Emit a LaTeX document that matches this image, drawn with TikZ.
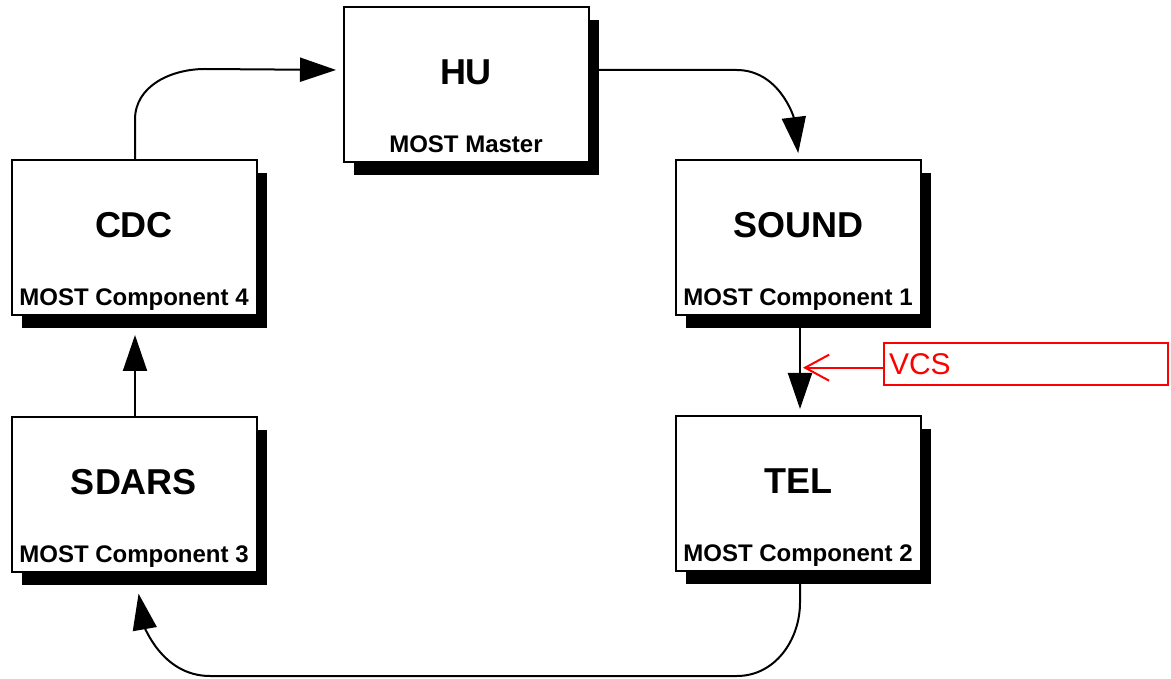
\documentclass[tikz,border=0pt]{standalone}
\usepackage{fontspec}
\setmainfont{Liberation Sans}
\usetikzlibrary{arrows.meta,shadows}
\begin{document}
\begin{tikzpicture}[x=1pt,y=1pt,
  unit/.style={draw=black, fill=white, line width=2pt, minimum width=245pt, minimum height=155pt, inner sep=0pt,
    general shadow={fill=black, shadow xshift=10pt, shadow yshift=-13pt}},
  ttl/.style={anchor=base, font=\fontsize{36}{40}\selectfont\bfseries, inner sep=0pt},
  sub/.style={anchor=base, font=\fontsize{24}{28}\selectfont\bfseries, inner sep=0pt},
  link/.style={line width=2pt, -{Triangle[length=36pt,width=24pt]}},
  vcsbox/.style={draw=red, line width=1.8pt, text=red, minimum width=284pt, minimum height=42pt,
    text width=274pt, inner xsep=5pt, inner ysep=0pt, align=left, font=\fontsize{30}{30}\selectfont},
  vcsarrow/.style={draw=red, line width=2pt, -{Straight Barb[length=24pt,width=26pt]}}
]
\useasboundingbox (0,0) rectangle (1171,678);

% boxes
\node[unit] (HU) at (466,593.5) {};
\node[ttl] (HUt) at (HU.center) {HU};
\node[sub] (HUs) at ([yshift=10.5pt]HU.south) {MOST Master};

\node[unit] (CDC) at (134,440) {};
\node[ttl] (CDCt) at (CDC.center) {CDC};
\node[sub] (CDCs) at ([yshift=10.5pt]CDC.south) {MOST Component 4};

\node[unit] (SOUND) at (798,440) {};
\node[ttl] (SOUNDt) at (SOUND.center) {SOUND};
\node[sub] (SOUNDs) at ([yshift=10.5pt]SOUND.south) {MOST Component 1};

\node[unit] (SDARS) at (134,183) {};
\node[ttl] (SDARSt) at (SDARS.center) {SDARS};
\node[sub] (SDARSs) at ([yshift=10.5pt]SDARS.south) {MOST Component 3};

\node[unit] (TEL) at (798,184) {};
\node[ttl] (TELt) at (TEL.center) {TEL};
\node[sub] (TELs) at ([yshift=10.5pt]TEL.south) {MOST Component 2};

% ring connectors
\draw[link, shorten >=6.5pt] ([xshift=1pt]CDC.north) -- ++(0,40) to[out=90,in=180] ++(70,50.5) -- ([yshift=14.5pt]HU.west);
\draw[link, shorten >=6.5pt] ([yshift=14.5pt]HU.east) -- ++(147,0) to[out=0,in=97] ([xshift=1pt]SOUND.north);
\draw[link, shorten >=6.5pt] ([xshift=2pt]SOUND.south) -- ([xshift=2pt]TEL.north);
\draw[link, shorten >=20.5pt] ([xshift=2pt]TEL.south) -- ++(0,-30) to[out=-90,in=0] ++(-63,-73.5) -- ++(-527,0) to[out=180,in=-80] ([xshift=1pt]SDARS.south);
\draw[link, shorten >=18.5pt] ([xshift=1pt]SDARS.north) -- ([xshift=1pt]CDC.south);

% VCS annotation
\node[vcsbox] (VCS) at (1026,314) {VCS};
\coordinate (vcsTip) at (803,310.3);
\draw[vcsarrow] ([yshift=-3.7pt]VCS.west) -- (vcsTip);
\end{tikzpicture}
\end{document}
